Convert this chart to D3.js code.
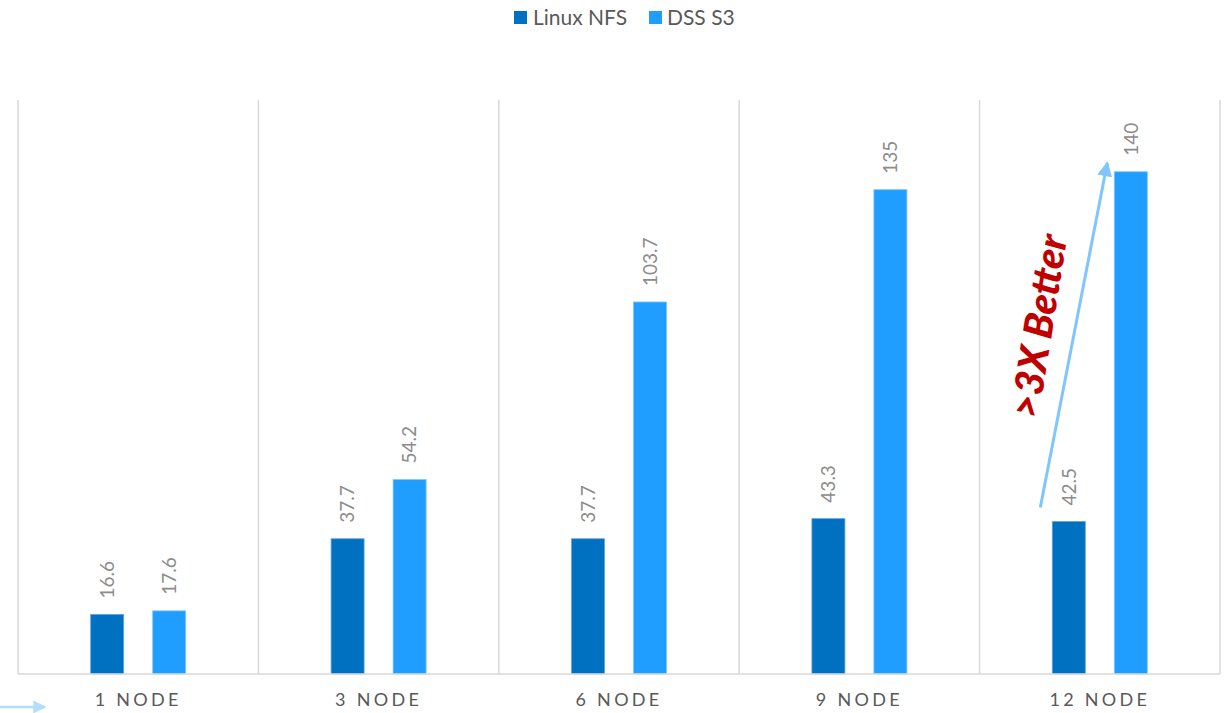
<!DOCTYPE html>
<html>
<head>
<meta charset="utf-8">
<script src="https://cdn.jsdelivr.net/npm/d3@7"></script>
<style>
  html, body { margin: 0; padding: 0; background: #fff; }
  svg { display: block; }
</style>
</head>
<body>
<svg id="chart" width="1230" height="713"></svg>
<script>
const categories = ["1 NODE", "3 NODE", "6 NODE", "9 NODE", "12 NODE"];
const seriesNames = ["Linux NFS", "DSS S3"];
const linuxNFS = [16.6, 37.7, 37.7, 43.3, 42.5];
const dssS3 = [17.6, 54.2, 103.7, 135, 140];
const valueLabels = [
  ["16.6", "37.7", "37.7", "43.3", "42.5"],
  ["17.6", "54.2", "103.7", "135", "140"]
];
const seriesColors = ["#0070C0", "#1F9EFF"];
const seriesStrokes = ["#5DA5DC", "#7CC6FF"];
const yDomain = [0, 160];
const annotationText = ">3X Better";

const W = 1230, H = 713;
const margin = { left: 18, right: 10, top: 100, bottom: 39 };
const svg = d3.select("#chart");
const font = "Lato, 'Open Sans', 'DejaVu Sans', sans-serif";

const x0 = d3.scaleBand().domain(categories).range([margin.left, W - margin.right]).paddingInner(0).paddingOuter(0);
const bw = x0.bandwidth();
const pi = 29 / 62;
const step = 62;
const po = (bw / step - (2 - pi)) / 2;
const x1 = d3.scaleBand().domain(seriesNames).range([0, bw]).paddingInner(pi).paddingOuter(po);
const y = d3.scaleLinear().domain(yDomain).range([H - margin.bottom, margin.top]);

const baseY = y(0);

const bounds = categories.map(c => x0(c)).concat([x0(categories[categories.length - 1]) + bw]);
svg.append("g").selectAll("line").data(bounds).join("line")
  .attr("x1", d => d).attr("x2", d => d)
  .attr("y1", y(yDomain[1])).attr("y2", baseY)
  .attr("stroke", "#D9D9D9").attr("stroke-width", 1.5);

const data = categories.map((c, i) => ({ cat: c, vals: [linuxNFS[i], dssS3[i]], labels: [valueLabels[0][i], valueLabels[1][i]] }));
const groups = svg.append("g").selectAll("g").data(data).join("g")
  .attr("transform", d => `translate(${x0(d.cat)},0)`);

groups.selectAll("rect").data(d => d.vals.map((v, k) => ({ v, k }))).join("rect")
  .attr("x", d => x1(seriesNames[d.k]))
  .attr("width", x1.bandwidth())
  .attr("y", d => y(d.v))
  .attr("height", d => baseY - y(d.v))
  .attr("fill", d => seriesColors[d.k])
  .attr("stroke", d => seriesStrokes[d.k])
  .attr("stroke-width", 0.8);

groups.selectAll("text.val").data(d => d.vals.map((v, k) => ({ v, k, lab: d.labels[k] }))).join("text")
  .attr("class", "val")
  .attr("transform", d => `translate(${x1(seriesNames[d.k]) + x1.bandwidth() / 2},${y(d.v) - 16}) rotate(-90)`)
  .attr("dy", "0.36em")
  .attr("text-anchor", "start")
  .attr("font-family", font)
  .attr("font-weight", 400)
  .attr("font-size", 19)
  .attr("fill", "#8C8C8C")
  .text(d => d.lab);

svg.append("line")
  .attr("x1", margin.left).attr("x2", W - margin.right)
  .attr("y1", baseY).attr("y2", baseY)
  .attr("stroke", "#D9D9D9").attr("stroke-width", 1.5);

const xAxis = d3.axisBottom(x0).tickSize(0).tickPadding(0);
const ax = svg.append("g").attr("transform", `translate(0,${baseY})`).call(xAxis);
ax.select(".domain").remove();
ax.selectAll("text")
  .attr("y", 32)
  .attr("dy", 0)
  .attr("font-family", font)
  .attr("font-size", 18)
  .attr("letter-spacing", "3.3px")
  .attr("fill", "#595959");

const legendItems = [
  { name: seriesNames[0], color: seriesColors[0], sx: 514, tx: 533 },
  { name: seriesNames[1], color: seriesColors[1], sx: 649, tx: 667 }
];
const lg = svg.append("g");
legendItems.forEach(it => {
  lg.append("rect").attr("x", it.sx).attr("y", 11).attr("width", 13).attr("height", 13).attr("fill", it.color);
  lg.append("text").attr("x", it.tx).attr("y", 24.5)
    .attr("font-family", font).attr("font-size", 21).attr("fill", "#595959")
    .text(it.name);
});

const lastCat = categories[categories.length - 1];
const ax1 = x0(lastCat) + x1(seriesNames[0]) - 12;
const ay1 = y(linuxNFS[linuxNFS.length - 1]) - 14;
const ax2 = x0(lastCat) + x1(seriesNames[1]) - 7;
const ay2 = y(dssS3[dssS3.length - 1]) - 9;
const defs = svg.append("defs");
defs.append("marker").attr("id", "ah").attr("viewBox", "0 0 10 10")
  .attr("refX", 9).attr("refY", 5).attr("markerWidth", 5).attr("markerHeight", 5)
  .attr("markerUnits", "strokeWidth").attr("orient", "auto")
  .append("path").attr("d", "M0,0 L10,5 L0,10 Z").attr("fill", "#7FC6FF");
svg.append("line")
  .attr("x1", ax1).attr("y1", ay1).attr("x2", ax2).attr("y2", ay2)
  .attr("stroke", "#7FC6FF").attr("stroke-width", 3)
  .attr("marker-end", "url(#ah)");

svg.append("text")
  .attr("transform", `translate(1039,326) rotate(-81)`)
  .attr("text-anchor", "middle")
  .attr("dy", "0.35em")
  .attr("font-family", "Lato, 'Open Sans', sans-serif")
  .attr("font-weight", "900")
  .attr("font-style", "italic")
  .attr("font-size", 40)
  .attr("fill", "#C00000")
  .text(annotationText);

defs.append("marker").attr("id", "ah2").attr("viewBox", "0 0 10 10")
  .attr("refX", 9).attr("refY", 5).attr("markerWidth", 5).attr("markerHeight", 5)
  .attr("markerUnits", "strokeWidth").attr("orient", "auto")
  .append("path").attr("d", "M0,0 L10,5 L0,10 Z").attr("fill", "#B4DCFF");
svg.append("line")
  .attr("x1", -2).attr("y1", 707).attr("x2", 45).attr("y2", 707)
  .attr("stroke", "#B4DCFF").attr("stroke-width", 2.6)
  .attr("marker-end", "url(#ah2)");
</script>
</body>
</html>
